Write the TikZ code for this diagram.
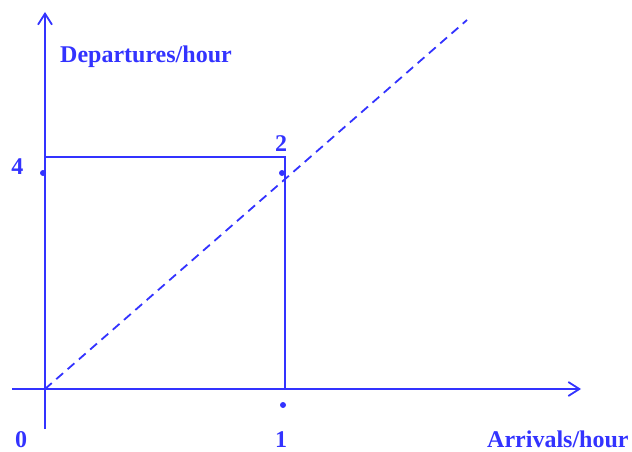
\documentclass[tikz,border=0pt]{standalone}
\usepackage{fontspec}
\setmainfont{Liberation Serif}
\usetikzlibrary{arrows.meta}
\definecolor{ink}{RGB}{51,51,255}
\begin{document}
\begin{tikzpicture}[x=1pt,y=-1pt,
  line/.style={draw=ink,line width=1.8pt},
  axis/.style={line,-{Straight Barb[length=11pt,width=14pt,line width=1.8pt]}},
  lbl/.style={text=ink,font=\fontsize{24}{28}\selectfont\bfseries,inner sep=0pt},
  pt/.style={circle,fill=ink,inner sep=0pt,minimum size=6pt}]
\useasboundingbox (0,0) rectangle (632,452);
\coordinate (ybot) at (45,429);
\coordinate (ytop) at (45,12);
\coordinate (xl) at (12,389);
\coordinate (xr) at (581,389);
\coordinate (o) at (45,389);
\coordinate (tl) at (45,157);
\coordinate (tr) at (285,157);
\coordinate (br) at (285,389);
\coordinate (dend) at (467,20);
\draw[axis] (ybot) -- (ytop);
\draw[axis] (xl) -- (xr);
\draw[line] (tl) -- (tr) -- (br);
\draw[line,dash pattern=on 9pt off 6pt] (o) -- (dend);
\node[pt] (d4) at (43,173) {};
\node[pt] (d2) at (282,173) {};
\node[pt] (d1) at (283,405) {};
\node[lbl,anchor=base west] (dep) at (60,63) {Departures/hour};
\node[lbl,anchor=base west] (arr) at (487,447) {Arrivals/hour};
\node[lbl] (n4) at (17.5,167) {4};
\node[lbl] (n2) at (281,143.5) {2};
\node[lbl] (n0) at (21,440) {0};
\node[lbl] (n1) at (281,440) {1};
\end{tikzpicture}
\end{document}
